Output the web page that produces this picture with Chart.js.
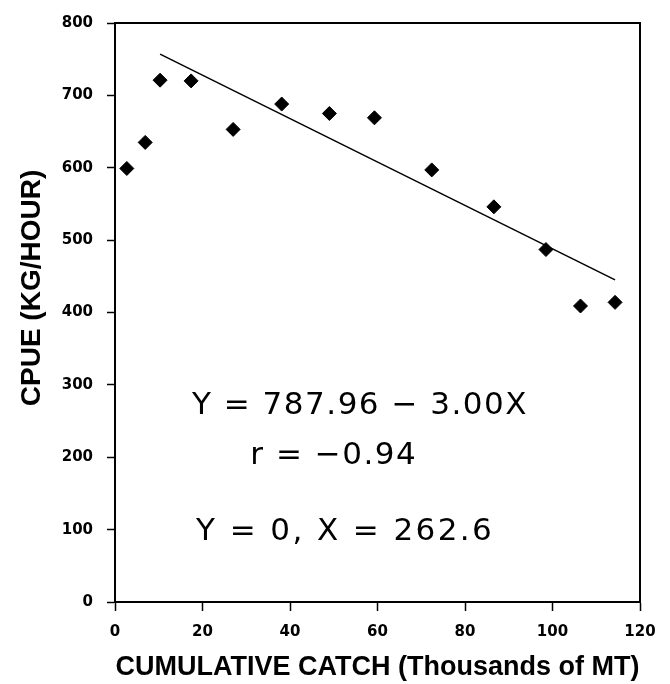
<!DOCTYPE html>
<html>
<head>
<meta charset="utf-8">
<script src="https://cdn.jsdelivr.net/npm/chart.js@4"></script>
<style>
  html, body { margin: 0; padding: 0; background: #fff; }
  #wrap { width: 670px; height: 684px; }
</style>
</head>
<body>
<div id="wrap"><canvas id="cpueChart" width="670" height="684"></canvas></div>
<script>
// Observed CPUE vs cumulative catch
const catchX = [2.7, 6.9, 10.3, 17.4, 27.0, 38.1, 49.0, 59.3, 72.4, 86.6, 98.5, 106.4, 114.3];
const cpue = [599, 635, 721, 720, 653, 688, 675, 669, 597, 546, 487, 409, 414];

// Regression printed on the figure
const fitIntercept = 787.96;
const fitSlope = -3.00;
const fitX = [10.3, 114.3];

const xTicks = [0, 20, 40, 60, 80, 100, 120];
const yTicks = [0, 100, 200, 300, 400, 500, 600, 700, 800];

const yTitle = 'CPUE (KG/HOUR)';
const noteLines = ['Y = 787.96 \u2212 3.00X', 'r = \u22120.94', 'Y = 0, X = 262.6'];

const points = catchX.map((x, i) => ({ x: x, y: cpue[i] }));
const fitLine = fitX.map(x => ({ x: x, y: fitIntercept + fitSlope * x }));

// Box around the plot area, y title and the equation text
const framePlugin = {
    id: 'frame',
    afterDatasetsDraw(chart) {
        const { ctx, chartArea: a, scales } = chart;
        ctx.save();
        ctx.strokeStyle = '#000';
        ctx.lineWidth = 2;
        ctx.strokeRect(a.left, a.top, a.right - a.left, a.bottom - a.top);

        ctx.fillStyle = '#000';

        // y axis title, sits a bit above the middle like the original
        ctx.save();
        ctx.translate(32, 288);
        ctx.rotate(-Math.PI / 2);
        ctx.font = 'bold 28px "Liberation Sans"';
        ctx.textAlign = 'center';
        ctx.textBaseline = 'middle';
        ctx.fillText(yTitle, 0, 0);
        ctx.restore();

        ctx.font = '31px "DejaVu Sans"';
        ctx.textAlign = 'center';
        ctx.textBaseline = 'alphabetic';
        const spots = [[56, 260, 1.5], [50, 190, 1.5], [52.6, 85, 2.4]];
        noteLines.forEach((txt, i) => {
            ctx.letterSpacing = spots[i][2] + 'px';
            const px = scales.x.getPixelForValue(spots[i][0]);
            const py = scales.y.getPixelForValue(spots[i][1]);
            ctx.fillText(txt, px, py);
        });
        ctx.restore();
    }
};

const tickFont = { family: '"DejaVu Sans"', size: 15, weight: 'bold' };
const titleFont = { family: '"Liberation Sans"', size: 27, weight: 'bold' };

new Chart(document.getElementById('cpueChart').getContext('2d'), {
    type: 'scatter',
    data: {
        datasets: [
            {
                label: 'CPUE',
                data: points,
                pointStyle: 'rectRot',
                pointRadius: 7,
                pointHoverRadius: 7,
                backgroundColor: '#000',
                borderColor: '#000',
                borderWidth: 1
            },
            {
                label: 'Fit',
                data: fitLine,
                showLine: true,
                pointRadius: 0,
                borderColor: '#000',
                borderWidth: 1.5,
                fill: false
            }
        ]
    },
    options: {
        responsive: false,
        animation: false,
        layout: { padding: { top: 17, right: 30, bottom: 0, left: 0 } },
        plugins: {
            legend: { display: false },
            tooltip: { enabled: false }
        },
        scales: {
            x: {
                type: 'linear',
                min: 0,
                max: 120,
                afterBuildTicks: s => { s.ticks = xTicks.map(v => ({ value: v })); },
                afterFit: s => { s.height = 82; },
                grid: { drawOnChartArea: false, color: '#000', tickLength: 9, tickWidth: 1.5 },
                border: { color: '#000', width: 2 },
                ticks: { color: '#000', font: tickFont, padding: 12, maxRotation: 0 },
                title: {
                    display: true,
                    text: 'CUMULATIVE CATCH (Thousands of MT)',
                    color: '#000',
                    font: titleFont,
                    padding: { top: 0, bottom: 0 }
                }
            },
            y: {
                type: 'linear',
                min: 0,
                max: 800,
                afterBuildTicks: s => { s.ticks = yTicks.map(v => ({ value: v })); },
                afterFit: s => { s.width = 115; },
                grid: { drawOnChartArea: false, color: '#000', tickLength: 8, tickWidth: 1.5 },
                border: { color: '#000', width: 2 },
                ticks: { color: '#000', font: tickFont, padding: 14 },
                title: { display: false }
            }
        }
    },
    plugins: [framePlugin]
});
</script>
</body>
</html>
